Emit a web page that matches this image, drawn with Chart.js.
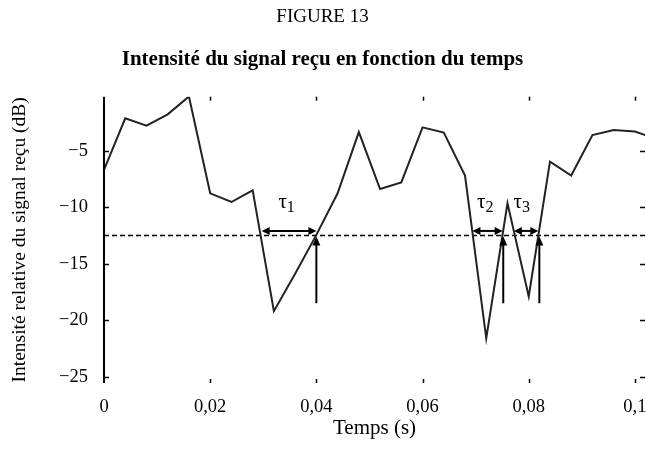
<!DOCTYPE html>
<html><head><meta charset="utf-8">
<script src="https://cdn.jsdelivr.net/npm/chart.js@4/dist/chart.umd.min.js"></script>
<style>html,body{margin:0;padding:0;background:#fff;} #wrap{width:646px;height:470px;position:relative;}</style>
</head><body><div id="wrap"><canvas id="c"></canvas></div>
<script>
// ---- data ----
const timeS = [0,0.004,0.008,0.012,0.016,0.020,0.024,0.028,0.032,0.036,0.040,0.044,0.048,0.052,0.056,0.060,0.064,0.068,0.072,0.076,0.080,0.084,0.088,0.092,0.096,0.100,0.104];
const intensityDb = [-6.7,-2.13,-2.79,-1.78,-0.2,-8.77,-9.54,-8.5,-19.2,-15.9,-12.45,-8.77,-3.35,-8.39,-7.8,-2.93,-3.4,-7.2,-21.6,-9.66,-17.9,-5.97,-7.2,-3.61,-3.17,-3.3,-3.95];
const thresholdDb = -12.5;
const xTickValues = [0,0.02,0.04,0.06,0.08,0.1];
const xTickLabels = ['0','0,02','0,04','0,06','0,08','0,1'];
const yTickValues = [-25,-20,-15,-10,-5];
const yTickLabels = ['−25','−20','−15','−10','−5'];
const tauLabels = ['1','2','3'];
const tauStart = [0.0297,0.0694,0.0772];
const tauEnd = [0.0400,0.0751,0.0818];
const tauArrowDb = -12.1;
const tauLabelX = [0.0344,0.0718,0.0787];
const tauLabelDb = -9.6;
const upArrowX = [0.0400,0.0752,0.0820];
const upArrowFromDb = -18.5;
const upArrowToDb = -12.6;

const SERIF = '"Liberation Serif","Times New Roman",serif';

function head(ctx, tx, ty, dx, dy, len, half){
  const px=-dy, py=dx;
  ctx.beginPath();
  ctx.moveTo(tx,ty);
  ctx.lineTo(tx-dx*len+px*half, ty-dy*len+py*half);
  ctx.lineTo(tx-dx*len-px*half, ty-dy*len-py*half);
  ctx.closePath();
  ctx.fill();
}

const annot = {
  id:'annot',
  afterDraw(chart){
    const {ctx, chartArea:a, scales:{x,y}} = chart;
    ctx.save();
    ctx.strokeStyle='#000'; ctx.fillStyle='#000';
    ctx.lineWidth=2;
    ctx.beginPath(); ctx.moveTo(a.left,a.top); ctx.lineTo(a.left,a.bottom); ctx.stroke();
    ctx.lineWidth=1.5;
    xTickValues.forEach(v=>{
      if(v===0) return;
      const px=Math.round(x.getPixelForValue(v))+0.5;
      ctx.beginPath(); ctx.moveTo(px,a.top); ctx.lineTo(px,a.top+4); ctx.stroke();
      ctx.beginPath(); ctx.moveTo(px,a.bottom); ctx.lineTo(px,a.bottom-4); ctx.stroke();
    });
    yTickValues.forEach(v=>{
      const py=Math.round(y.getPixelForValue(v))+0.5;
      ctx.beginPath(); ctx.moveTo(a.left,py); ctx.lineTo(a.left+5,py); ctx.stroke();
      ctx.beginPath(); ctx.moveTo(a.right,py); ctx.lineTo(a.right-5,py); ctx.stroke();
    });
    ctx.lineWidth=2;
    tauStart.forEach((s,i)=>{
      const x1=x.getPixelForValue(s), x2=x.getPixelForValue(tauEnd[i]), py=y.getPixelForValue(tauArrowDb);
      ctx.beginPath(); ctx.moveTo(x1+4,py); ctx.lineTo(x2-4,py); ctx.stroke();
      head(ctx,x1,py,-1,0,8,4);
      head(ctx,x2,py,1,0,8,4);
    });
    upArrowX.forEach(v=>{
      const px=x.getPixelForValue(v), y1=y.getPixelForValue(upArrowFromDb), y2=y.getPixelForValue(upArrowToDb);
      ctx.beginPath(); ctx.moveTo(px,y1); ctx.lineTo(px,y2+5); ctx.stroke();
      head(ctx,px,y2,0,-1,9,4);
    });
    ctx.textBaseline='alphabetic';
    tauLabels.forEach((t,i)=>{
      const px=x.getPixelForValue(tauLabelX[i]), py=y.getPixelForValue(tauLabelDb);
      ctx.font='21px '+SERIF;
      const w=ctx.measureText('τ').width;
      ctx.font='16px '+SERIF;
      const w2=ctx.measureText(t).width;
      const x0=px-(w+w2)/2;
      ctx.font='21px '+SERIF; ctx.textAlign='left';
      ctx.fillText('τ',x0,py+5);
      ctx.font='16px '+SERIF;
      ctx.fillText(t,x0+w,py+9);
    });
    ctx.restore();
  }
};

new Chart(document.getElementById('c'), {
  type:'line',
  data:{
    datasets:[
      {label:'signal', data:timeS.map((t,i)=>({x:t,y:intensityDb[i]})), borderColor:'#222', borderWidth:2, pointRadius:0, tension:0, fill:false},
      {label:'seuil', data:[{x:0,y:thresholdDb},{x:0.11,y:thresholdDb}], borderColor:'#000', borderWidth:1.5, borderDash:[5,3], pointRadius:0, fill:false}
    ]
  },
  options:{
    responsive:true, maintainAspectRatio:false, animation:false,
    layout:{autoPadding:false, padding:{left:0,right:1,top:0,bottom:0}},
    plugins:{
      legend:{display:false}, tooltip:{enabled:false},
      title:{display:true, text:'FIGURE 13', color:'#000', font:{family:SERIF,size:19,weight:'normal'}, padding:{top:5.6,bottom:0}},
      subtitle:{display:true, text:'Intensité du signal reçu en fonction du temps', color:'#000', font:{family:SERIF,size:21,weight:'bold'}, padding:{top:18.5,bottom:24.6}}
    },
    scales:{
      x:{type:'linear', min:0, max:0.1019,
        afterBuildTicks:s=>{s.ticks=xTickValues.map(v=>({value:v}));},
        afterFit:s=>{s.height=87; s.paddingLeft=0; s.paddingRight=0;},
        grid:{display:false, drawTicks:false}, border:{display:false},
        ticks:{padding:13, color:'#000', font:{family:SERIF,size:18.5}, maxRotation:0,
          callback:(v,i)=>xTickLabels[i]},
        title:{display:true, text:'Temps (s)', color:'#000', font:{family:SERIF,size:21}, padding:{top:0,bottom:29.4}}
      },
      y:{type:'linear', min:-25.56, max:-0.22,
        afterBuildTicks:s=>{s.ticks=yTickValues.map(v=>({value:v}));},
        afterFit:s=>{s.width=104; s.paddingTop=0; s.paddingBottom=0;},
        grid:{display:false, drawTicks:false}, border:{display:false},
        ticks:{padding:16, color:'#000', font:{family:SERIF,size:18.5},
          callback:(v,i)=>yTickLabels[i]},
        title:{display:true, text:'Intensité relative du signal reçu (dB)', color:'#000', font:{family:SERIF,size:19.5}, padding:{top:8,bottom:0}}
      }
    }
  },
  plugins:[annot]
});
</script></body></html>
